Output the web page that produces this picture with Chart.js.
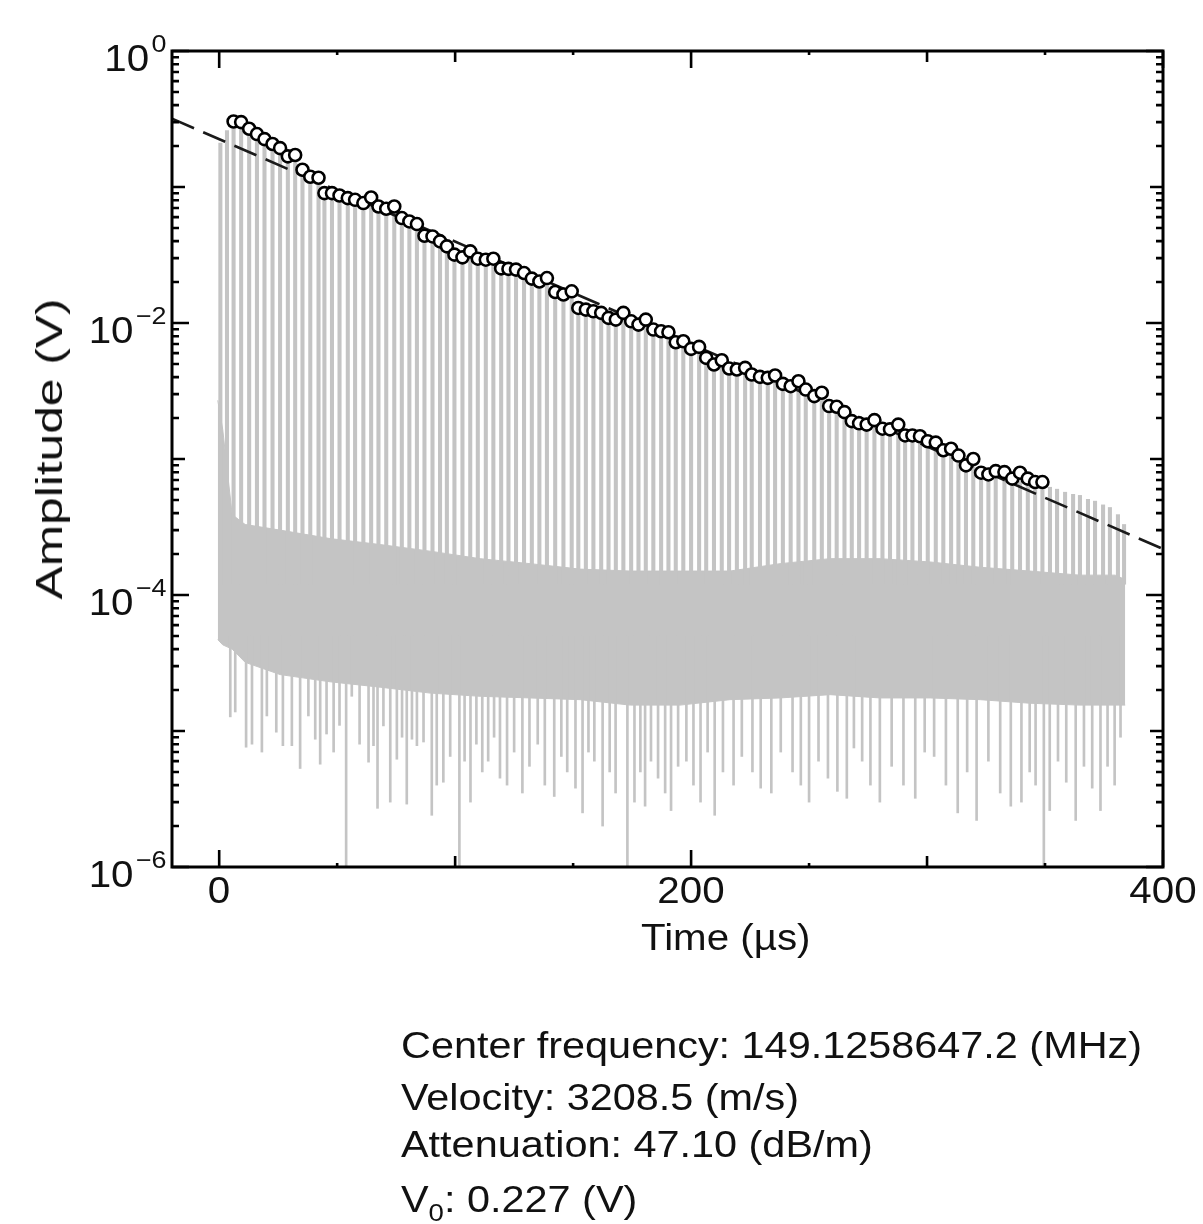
<!DOCTYPE html>
<html>
<head>
<meta charset="utf-8">
<script src="https://cdn.jsdelivr.net/npm/chart.js@4.4.1/dist/chart.umd.min.js"></script>
<style>
  body{margin:0;background:#fff;}
  #wrap{position:relative;width:1203px;height:1224px;overflow:hidden;}
  #c{position:absolute;left:0;top:0;}
  .lbl{position:absolute;font-family:"Liberation Sans",Arial,sans-serif;font-size:36px;line-height:36px;color:#111;white-space:nowrap;}
  .lbl sup{font-size:24px;position:relative;top:-19px;vertical-align:baseline;margin-left:2px;}
  .lbl sub{font-size:24px;position:relative;top:9px;vertical-align:baseline;}
</style>
</head>
<body>
<div id="wrap">
  <canvas id="c" width="1203" height="1224"></canvas>
</div>
<script>
// echo peaks (open circles), time in µs, amplitude in V
const circleTime = [6.1, 9.3, 12.7, 16.0, 19.2, 22.6, 25.8, 29.1, 32.2, 35.3,
  38.6, 42.1, 44.6, 47.8, 51.0, 54.5, 57.6, 61.1, 64.4, 67.5,
  70.8, 74.2, 77.4, 80.6, 83.8, 87.0, 90.4, 93.6, 96.5, 99.7,
  103.1, 106.4, 109.6, 113.0, 116.2, 119.5, 122.6, 125.8, 129.2, 132.5,
  135.7, 138.9, 142.4, 145.9, 149.4, 152.2, 155.4, 158.6, 161.9, 165.0,
  168.1, 171.3, 174.6, 177.7, 180.8, 184.0, 187.3, 190.4, 193.5, 196.7,
  200.0, 203.4, 206.4, 209.7, 213.0, 216.1, 219.4, 222.9, 225.7, 229.2,
  232.5, 235.6, 238.9, 242.2, 245.5, 248.6, 252.2, 255.4, 258.5, 261.7,
  265.0, 268.1, 271.2, 274.4, 277.7, 281.1, 284.3, 287.8, 290.7, 293.8,
  297.0, 300.3, 303.7, 306.9, 310.2, 313.3, 316.5, 319.6, 322.9, 326.0,
  329.1, 332.8, 336.1, 339.4, 342.7, 345.8, 348.9];
const circleAmp = [0.303, 0.300, 0.268, 0.245, 0.225, 0.207, 0.193, 0.168, 0.172, 0.134,
  0.119, 0.117, 0.0902, 0.0902, 0.0866, 0.0829, 0.0805, 0.0762, 0.0837, 0.0719,
  0.0692, 0.0719, 0.0591, 0.0558, 0.0534, 0.0438, 0.0433, 0.0398, 0.0366, 0.0318,
  0.0304, 0.0336, 0.0297, 0.0292, 0.0297, 0.0252, 0.0250, 0.0247, 0.0233, 0.0212,
  0.0202, 0.0214, 0.0169, 0.0162, 0.0171, 0.0129, 0.01254, 0.01219, 0.01187, 0.0109,
  0.01059, 0.01187, 0.01029, 0.00973, 0.01059, 0.00895, 0.00869, 0.00855, 0.00722, 0.00734,
  0.00645, 0.00667, 0.00554, 0.00495, 0.00532, 0.00463, 0.00455, 0.00468, 0.00418, 0.00402,
  0.00395, 0.00411, 0.00357, 0.00343, 0.00373, 0.00324, 0.0029, 0.00307, 0.00245, 0.00242,
  0.00221, 0.0019, 0.00183, 0.00179, 0.00193, 0.00167, 0.00165, 0.00179, 0.00149, 0.00149,
  0.00147, 0.00135, 0.00132, 0.00116, 0.00119, 0.00106, 0.000897, 0.001, 0.000793, 0.00077,
  0.000815, 0.000801, 0.000717, 0.000793, 0.000717, 0.000677, 0.000677];

// echoes in the gray trace that have no circle
const leadTime = [0.5, 3.3];
const leadAmp = [0.21, 0.26];
const tailTime = [352.1, 355.1, 358.5, 361.9, 364.8, 368.2, 371.2, 374.6, 377.5, 380.9, 383.5];
const tailAmp = [6.2e-4, 6.0e-4, 5.7e-4, 5.5e-4, 5.4e-4, 5.05e-4, 4.9e-4, 4.6e-4, 4.4e-4, 3.9e-4, 3.3e-4];
const echoFloor = 1.2e-4;

// noise band of the gray trace (upper and lower edge of the solid part)
const bandTime = [-0.6, 1.5, 5.5, 11.0, 25.8, 47.0, 68.2, 89.4, 110.6, 131.8, 153.0, 174.2,
  195.3, 216.5, 237.7, 258.9, 280.1, 301.3, 322.5, 343.6, 364.8, 379.7, 384.0];
const bandTop = [2.7e-3, 1.65e-3, 3.9e-4, 3.3e-4, 3.0e-4, 2.6e-4, 2.35e-4, 2.1e-4, 1.85e-4, 1.7e-4, 1.55e-4, 1.5e-4,
  1.5e-4, 1.5e-4, 1.7e-4, 1.85e-4, 1.85e-4, 1.75e-4, 1.6e-4, 1.5e-4, 1.4e-4, 1.4e-4, 1.3e-4];
const bandLow = [4.7e-5, 4.3e-5, 4.0e-5, 3.2e-5, 2.6e-5, 2.3e-5, 2.1e-5, 1.9e-5, 1.8e-5, 1.75e-5, 1.7e-5, 1.55e-5,
  1.55e-5, 1.7e-5, 1.75e-5, 1.85e-5, 1.75e-5, 1.75e-5, 1.7e-5, 1.6e-5, 1.55e-5, 1.55e-5, 1.55e-5];

// downward noise spikes below the band
const dipTime = [4.7, 6.8, 11.4, 13.9, 18.1, 20.2, 24.2, 27.0, 30.8, 34.3, 37.8, 40.7, 42.8, 45.5, 48.5,
  51.0, 53.8, 56.2, 59.5, 63.3, 65.4, 67.1, 69.6, 72.5, 75.3, 77.5, 79.5, 81.7, 83.8, 86.6,
  90.1, 92.2, 95.0, 97.9, 101.8, 104.0, 106.5, 109.0, 111.5, 114.0, 116.5, 119.0, 122.0, 125.0,
  128.5, 131.5, 135.0, 138.0, 142.0, 145.0, 147.5, 151.0, 154.0, 156.5, 159.0, 162.5, 165.5, 168.0,
  173.0, 176.0, 178.5, 180.5, 183.0, 186.0, 189.0, 191.5, 194.5, 198.0, 201.0, 204.0, 207.0, 210.0,
  213.5, 218.0, 221.5, 226.0, 229.5, 234.0, 238.0, 243.0, 246.5, 250.0, 254.0, 258.0, 262.0, 266.0,
  269.0, 272.5, 276.0, 280.0, 285.0, 290.0, 295.0, 299.0, 303.0, 308.0, 313.0, 317.0, 321.0, 326.0,
  331.0, 335.5, 340.0, 343.5, 346.0, 349.5, 352.0, 355.5, 359.0, 363.0, 366.5, 370.0, 373.5, 376.5,
  379.5, 382.0];
const dipLow = [1.27e-5, 1.38e-5, 7.6e-6, 8.0e-6, 7.0e-6, 1.29e-5, 9.8e-6, 7.8e-6, 7.8e-6, 5.3e-6, 1.29e-5, 8.7e-6, 5.7e-6, 9.5e-6, 7.0e-6,
  1.1e-5, 1.0e-6, 1.8e-5, 8.0e-6, 5.9e-6, 7.8e-6, 2.7e-6, 1.09e-5, 3.0e-6, 6.2e-6, 9.0e-6, 2.9e-6, 8.7e-6, 7.8e-6, 8.3e-6,
  2.4e-6, 4.0e-6, 4.2e-6, 6.5e-6, 1.0e-6, 6.0e-6, 3.0e-6, 8.0e-6, 5.0e-6, 6.0e-6, 9.0e-6, 4.5e-6, 4.0e-6, 7.0e-6,
  3.5e-6, 5.5e-6, 8.0e-6, 4.0e-6, 3.3e-6, 6.5e-6, 5.0e-6, 3.8e-6, 2.5e-6, 7.0e-6, 6.0e-6, 2.0e-6, 5.0e-6, 3.5e-6,
  1.0e-6, 3.0e-6, 5.0e-6, 2.8e-6, 6.0e-6, 4.5e-6, 3.5e-6, 2.6e-6, 5.5e-6, 6.0e-6, 4.0e-6, 3.0e-6, 7.0e-6, 2.4e-6,
  5.0e-6, 4.0e-6, 6.5e-6, 5.0e-6, 3.8e-6, 3.5e-6, 7.0e-6, 5.0e-6, 4.0e-6, 3.0e-6, 6.0e-6, 4.5e-6, 3.6e-6, 3.2e-6,
  7.5e-6, 6.0e-6, 4.0e-6, 3.0e-6, 5.5e-6, 4.0e-6, 3.2e-6, 7.0e-6, 6.5e-6, 4.0e-6, 2.5e-6, 5.0e-6, 2.2e-6, 6.0e-6,
  3.5e-6, 2.8e-6, 3.0e-6, 5.0e-6, 4.0e-6, 1.0e-6, 2.6e-6, 6.0e-6, 4.2e-6, 2.2e-6, 5.5e-6, 3.8e-6, 2.6e-6, 5.5e-6,
  4.0e-6, 9.0e-6];

// least-squares fit (dashed), V0 = 0.227 V
const fitTime = [-20, 400];
const fitAmp = [0.318, 2.18e-4];

// axis ticks
const xMajor = [0, 100, 200, 300, 400];
const xMinor = [50, 150, 250, 350];
const xLabels = [0, 200, 400];
const yDecades = [-6, -5, -4, -3, -2, -1, 0];
const yLabels = [-6, -4, -2, 0];

const gray = '#c4c4c4';

const pts = (xs, ys) => xs.map((x, i) => ({x, y: ys[i]}));
const echoTimes = [...leadTime, ...circleTime, ...tailTime];
const echoAmps = [...leadAmp, ...circleAmp, ...tailAmp];
const echoBars = echoTimes.map((t, i) => ({x: t, y: [echoFloor, echoAmps[i]]}));
const dipBars = dipTime.map((t, i) => ({x: t, y: [dipLow[i], 5e-5]}));

const frame = {
  id: 'frame',
  afterDatasetsDraw(chart){
    const {ctx, chartArea: a, scales: {x, y}} = chart;
    ctx.save();
    ctx.strokeStyle = '#000';
    ctx.lineWidth = 2.6;
    ctx.beginPath();
    const vtick = (px, len) => { ctx.moveTo(px, a.bottom); ctx.lineTo(px, a.bottom - len); ctx.moveTo(px, a.top); ctx.lineTo(px, a.top + len); };
    const htick = (py, len) => { ctx.moveTo(a.left, py); ctx.lineTo(a.left + len, py); ctx.moveTo(a.right, py); ctx.lineTo(a.right - len, py); };
    xMajor.forEach(v => vtick(x.getPixelForValue(v), xLabels.includes(v) ? 17 : 11));
    xMinor.forEach(v => vtick(x.getPixelForValue(v), 4));
    yDecades.forEach(e => {
      htick(y.getPixelForValue(Math.pow(10, e)), yLabels.includes(e) ? 17 : 13);
      if (e < 0) for (let m = 2; m <= 9; m++) htick(y.getPixelForValue(m * Math.pow(10, e)), 7);
    });
    ctx.stroke();
    ctx.lineWidth = 3;
    ctx.strokeRect(a.left, a.top, a.right - a.left, a.bottom - a.top);
    ctx.restore();
  }
};

const chart = new Chart(document.getElementById('c'), {
  type: 'line',
  data: {
    datasets: [
      { type: 'scatter', data: pts(circleTime, circleAmp), pointRadius: 6, pointBorderWidth: 2.6,
        pointBorderColor: '#000', pointBackgroundColor: '#fff', showLine: false, order: 0 },
      { type: 'line', data: pts(fitTime, fitAmp), borderColor: '#1a1a1a', borderWidth: 2.6,
        borderDash: [24, 10], pointRadius: 0, fill: false, order: 1 },
      { type: 'bar', data: echoBars, backgroundColor: gray, barThickness: 3.4, grouped: false, order: 2 },
      { type: 'bar', data: dipBars, backgroundColor: gray, barThickness: 2, grouped: false, order: 3 },
      { type: 'line', data: pts(bandTime, bandTop), borderColor: gray, borderWidth: 1, pointRadius: 0, fill: false, order: 4 },
      { type: 'line', data: pts(bandTime, bandLow), borderColor: gray, borderWidth: 1, pointRadius: 0,
        fill: '-1', backgroundColor: gray, order: 5 }
    ]
  },
  options: {
    responsive: false,
    animation: false,
    events: [],
    layout: { padding: { left: 172, right: 40, top: 51, bottom: 357 } },
    plugins: { legend: { display: false }, tooltip: { enabled: false } },
    scales: {
      x: { type: 'linear', min: -20, max: 400, offset: false, display: false },
      y: { type: 'logarithmic', min: 1e-6, max: 1, display: false }
    }
  },
  plugins: [frame]
});

// text as DOM, placed with the chart's own scales
const wrap = document.getElementById('wrap');
function addLabel(html, style){
  const d = document.createElement('div');
  d.className = 'lbl';
  d.innerHTML = html;
  Object.assign(d.style, style);
  wrap.appendChild(d);
  return d;
}
const xs = chart.scales.x, ys = chart.scales.y, area = chart.chartArea;
const sx = 1.12;
xLabels.forEach(v => addLabel(String(v), {
  left: xs.getPixelForValue(v) + 'px', top: (area.bottom + 6) + 'px',
  transform: `translateX(-50%) scaleX(${sx})`, transformOrigin: '50% 50%'
}));
yLabels.forEach(e => addLabel(`10<sup>${e < 0 ? '\u2212' + (-e) : e}</sup>`, {
  right: (1203 - 166) + 'px', top: (ys.getPixelForValue(Math.pow(10, e)) - 10.5) + 'px',
  transform: `scaleX(${sx})`, transformOrigin: '100% 50%'
}));
addLabel('Time (\u00b5s)', { left: '641px', top: '920px', transform: `scaleX(${sx})`, transformOrigin: '0 0' });
addLabel('Amplitude (V)', { left: '50px', top: '449px', transform: 'translate(-50%,-50%) rotate(-90deg) scaleX(1.38)' });

const notes = [
  ['Center frequency: 149.1258647.2 (MHz)', 1058],
  ['Velocity: 3208.5 (m/s)', 1110],
  ['Attenuation: 47.10 (dB/m)', 1157],
  ['V<sub>0</sub>: 0.227 (V)', 1212]
];
notes.forEach(([html, base]) => addLabel(html, {
  left: '401px', top: (base - 30.5) + 'px', transform: 'scaleX(1.15)', transformOrigin: '0 0'
}));
</script>
</body>
</html>
